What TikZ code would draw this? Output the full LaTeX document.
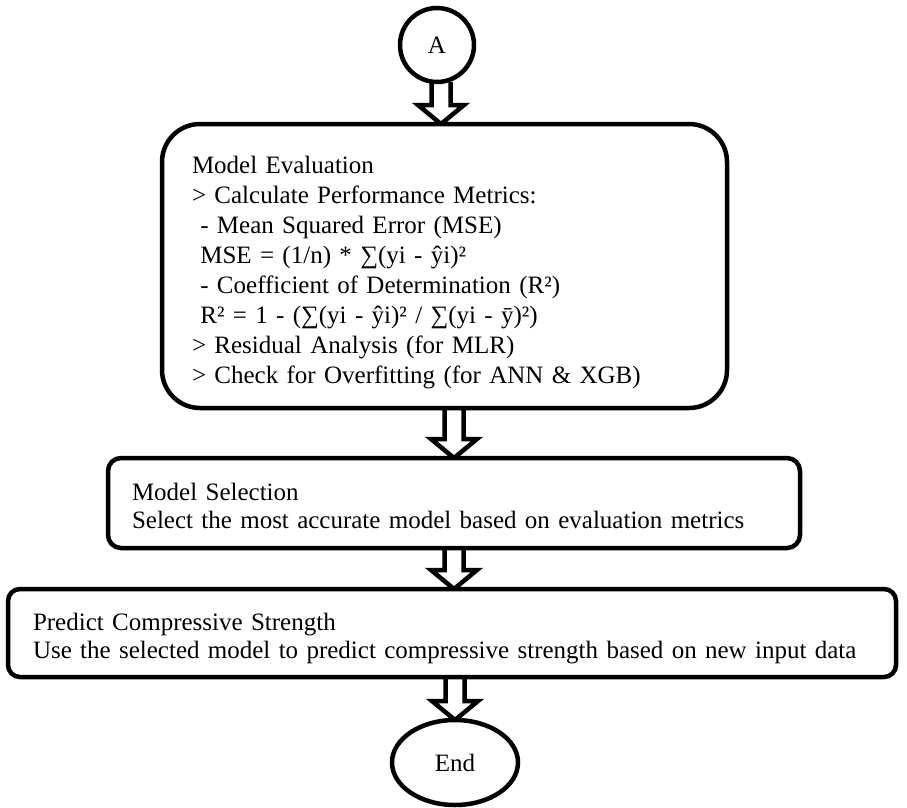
\documentclass[tikz,border=0pt]{standalone}
\usepackage{fontspec}
\setmainfont{Liberation Serif}
\usetikzlibrary{shapes.geometric,calc,backgrounds}

% hollow block arrow: #1 = x of its axis (pt), #2 = source node, #3 = target node
\newcommand\blockarrow[3]{%
  \draw[flowarrow] let \p1=(#2.south), \p2=(#3.north) in
    ({#1pt-9.5pt},\y1) -- ({#1pt-9.5pt},{\y2+19pt}) -- ({#1pt-23pt},{\y2+19pt})
    -- (#1pt,\y2)
    -- ({#1pt+23pt},{\y2+19pt}) -- ({#1pt+9.5pt},{\y2+19pt}) -- ({#1pt+9.5pt},\y1);
}

\tikzset{
  outline/.style={draw=black, line width=4.5pt, fill=white, outer sep=0pt},
  flowarrow/.style={draw=black, line width=4.5pt, fill=white, line join=miter},
  termcircle/.style={outline, circle, inner sep=0pt, minimum size=74pt,
    font=\fontsize{25}{30}\selectfont},
  termellipse/.style={outline, ellipse, inner sep=0pt, minimum width=126pt,
    minimum height=85pt, font=\fontsize{25}{30}\selectfont},
  procbox/.style={outline, rectangle, anchor=north west, align=left, inner ysep=0pt},
}

\begin{document}
\begin{tikzpicture}[x=1pt, y=-1pt]
\useasboundingbox (0,0) rectangle (907,808);

\node[termcircle] (start) at (437,45) {A};

\node[procbox, rounded corners=38pt, inner xsep=30pt, text width=505pt,
      font=\fontsize{25}{30}\selectfont] (eval) at (162,124)
  {\rule{0pt}{49pt}Model Evaluation\\
   > Calculate Performance Metrics:\\
   \ - Mean Squared Error (MSE)\\
   \ MSE = (1/n) * ∑(yi - ŷi)²\\
   \ - Coefficient of Determination (R²)\\
   \ R² = 1 - (∑(yi - ŷi)² / ∑(yi - ȳ)²)\\
   > Residual Analysis (for MLR)\\
   > Check for Overfitting (for ANN \& XGB)\rule[-25pt]{0pt}{25pt}};

\node[procbox, rounded corners=13pt, inner xsep=24pt, text width=644pt,
      font=\fontsize{25}{28}\selectfont] (select) at (108,458)
  {\rule{0pt}{42pt}Model Selection\\
   Select the most accurate model based on evaluation metrics\rule[-20pt]{0pt}{20pt}};

\node[procbox, rounded corners=12pt, inner xsep=25pt, text width=838pt,
      font=\fontsize{25}{28}\selectfont] (predict) at (8,589)
  {\rule{0pt}{41pt}Predict Compressive Strength\\
   Use the selected model to predict compressive strength based on new input data\rule[-19pt]{0pt}{19pt}};

\node[termellipse] (end) at (455,762.5) {End};

\begin{scope}[on background layer]
  \blockarrow{441}{start}{eval}
  \blockarrow{454}{eval}{select}
  \blockarrow{454}{select}{predict}
  \blockarrow{455}{predict}{end}
\end{scope}
\end{tikzpicture}
\end{document}
